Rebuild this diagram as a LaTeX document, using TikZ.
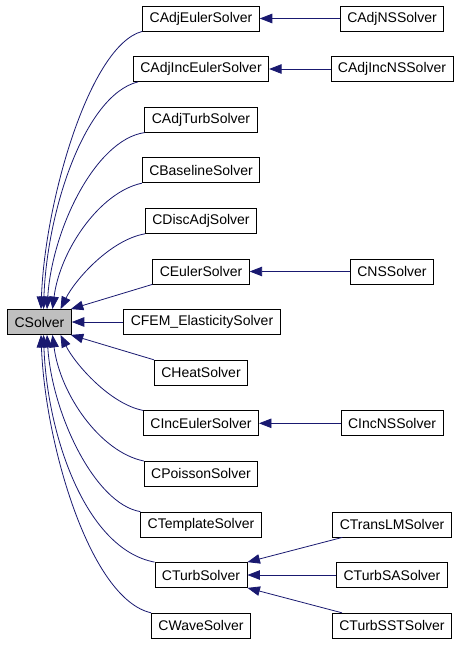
\documentclass[tikz,border=0pt]{standalone}
\usepackage{fontspec}
\setmainfont{Liberation Sans}
\usetikzlibrary{arrows.meta}
\definecolor{edgecol}{HTML}{191970}
\definecolor{basefill}{HTML}{BFBFBF}
\tikzset{
  box/.style={draw=black, line width=0.8pt, fill=white, minimum height=25pt,
    inner xsep=7pt, inner ysep=0pt, font=\fontsize{14}{16}\selectfont, text=black},
  inh/.style={draw=edgecol, line width=0.8pt, {Triangle[length=12.5pt,width=9.5pt,fill=edgecol]}-}
}
\begin{document}
\begin{tikzpicture}[x=1pt,y=-1pt]
\useasboundingbox (0,0) rectangle (461,645);
% nodes
\node[box, fill=basefill] (CSolver) at (39.5,322) {CSolver};
\node[box] (CAdjEuler) at (201,18.5) {CAdjEulerSolver};
\node[box] (CAdjNS) at (392,18.5) {CAdjNSSolver};
\node[box] (CAdjIncEuler) at (201,69) {CAdjIncEulerSolver};
\node[box] (CAdjIncNS) at (392,69) {CAdjIncNSSolver};
\node[box] (CAdjTurb) at (201,119.7) {CAdjTurbSolver};
\node[box] (CBaseline) at (201,170.3) {CBaselineSolver};
\node[box] (CDiscAdj) at (201,220.9) {CDiscAdjSolver};
\node[box] (CEuler) at (201,271.5) {CEulerSolver};
\node[box] (CNS) at (392,271.5) {CNSSolver};
\node[box] (CFEM) at (202,322) {CFEM\_ElasticitySolver};
\node[box] (CHeat) at (201,372.7) {CHeatSolver};
\node[box] (CIncEuler) at (201,423.3) {CIncEulerSolver};
\node[box] (CIncNS) at (392,423.3) {CIncNSSolver};
\node[box] (CPoisson) at (201,473.9) {CPoissonSolver};
\node[box] (CTemplate) at (201,524.5) {CTemplateSolver};
\node[box] (CTransLM) at (392,524.5) {CTransLMSolver};
\node[box] (CTurb) at (201,575) {CTurbSolver};
\node[box] (CTurbSA) at (392,575) {CTurbSASolver};
\node[box] (CWave) at (201,625.7) {CWaveSolver};
\node[box] (CTurbSST) at (392,625.7) {CTurbSSTSolver};
% edges from CSolver (upper)
\draw[inh] ([xshift=1.5pt]CSolver.north) .. controls (45,200) and (90,45) .. (CAdjEuler.south west);
\draw[inh] ([xshift=4pt]CSolver.north) .. controls (47,210) and (85,95) .. ([xshift=5pt]CAdjIncEuler.south west);
\draw[inh] ([xshift=7.5pt]CSolver.north) .. controls (52,230) and (95,140) .. (CAdjTurb.south west);
\draw[inh] ([xshift=13pt]CSolver.north) .. controls (60,250) and (100,192) .. (CBaseline.south west);
\draw[inh] ([xshift=21pt]CSolver.north) .. controls (75,280) and (110,240) .. (CDiscAdj.south west);
\draw[inh] ([xshift=-1pt]CSolver.north east) -- (CEuler.south west);
\draw[inh] (CSolver) -- (CFEM);
\draw[inh] ([xshift=-1pt]CSolver.south east) -- (CHeat.north west);
% edges from CSolver (lower)
\draw[inh] ([xshift=21pt]CSolver.south) .. controls (75,364) and (110,404) .. (CIncEuler.north west);
\draw[inh] ([xshift=13pt]CSolver.south) .. controls (60,394) and (100,452) .. (CPoisson.north west);
\draw[inh] ([xshift=7.5pt]CSolver.south) .. controls (52,414) and (95,504) .. (CTemplate.north west);
\draw[inh] ([xshift=4pt]CSolver.south) .. controls (47,434) and (85,549) .. (CTurb.north west);
\draw[inh] ([xshift=1.5pt]CSolver.south) .. controls (45,444) and (90,599) .. (CWave.north west);
% second level
\draw[inh] (CAdjEuler) -- (CAdjNS);
\draw[inh] (CAdjIncEuler) -- (CAdjIncNS);
\draw[inh] (CEuler) -- (CNS);
\draw[inh] (CIncEuler) -- (CIncNS);
\draw[inh] (CTurb.north east) -- ([xshift=10pt]CTransLM.south west);
\draw[inh] (CTurb) -- (CTurbSA);
\draw[inh] (CTurb.south east) -- ([xshift=10pt]CTurbSST.north west);
\end{tikzpicture}
\end{document}
